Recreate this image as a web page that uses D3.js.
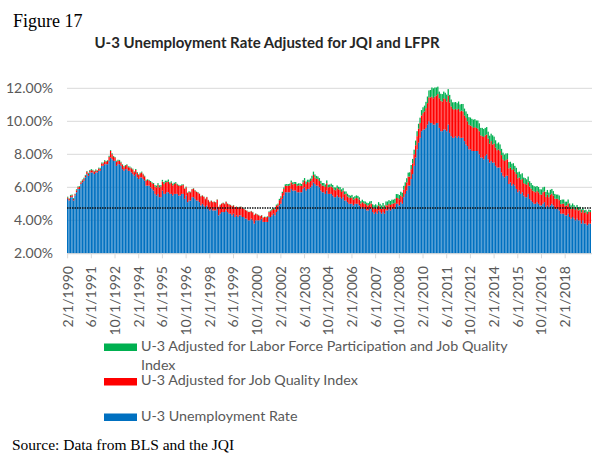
<!DOCTYPE html>
<html>
<head>
<meta charset="utf-8">
<script src="https://cdn.jsdelivr.net/npm/d3@7"></script>
<style>
  body { margin: 0; background: #fff; }
  svg { display: block; }
  .axisText { font-family: Lato, "Open Sans", sans-serif; font-size: 14px; fill: #595959; }
  .serif { font-family: "Liberation Serif", "Times New Roman", serif; fill: #000; }
</style>
</head>
<body>
<div class="chart"></div>
<script>
// monthly bars, first category 2/1/1990
var firstMonth = new Date(1990, 1, 1);

// U-3 unemployment rate (%), one row per year of bars
var u3Rate = [
  5.3, 5.2, 5.4, 5.4, 5.2, 5.5, 5.7, 5.9, 5.9, 6.2, 6.3,
  6.4, 6.6, 6.8, 6.7, 6.9, 6.9, 6.9, 6.8, 6.9, 6.9, 7.0, 7.0, 7.3,
  7.3, 7.4, 7.4, 7.4, 7.6, 7.8, 7.7, 7.6, 7.6, 7.3, 7.4, 7.4,
  7.3, 7.1, 7.0, 7.1, 7.1, 7.0, 7.0, 6.9, 6.8, 6.7, 6.8, 6.6, 6.5,
  6.6, 6.6, 6.5, 6.4, 6.1, 6.1, 6.1, 6.0, 5.9, 5.8, 5.6, 5.5,
  5.6, 5.4, 5.4, 5.8, 5.6, 5.6, 5.7, 5.7, 5.6, 5.6, 5.5, 5.6, 5.6,
  5.6, 5.5, 5.5, 5.6, 5.6, 5.3, 5.5, 5.1, 5.2, 5.2, 5.4, 5.4,
  5.3, 5.2, 5.2, 5.1, 4.9, 5.0, 4.9, 4.8, 4.9, 4.7, 4.6, 4.7,
  4.6, 4.6, 4.6, 4.7, 4.3, 4.4, 4.5, 4.5, 4.5, 4.6, 4.5, 4.4, 4.4,
  4.3, 4.4, 4.2, 4.3, 4.2, 4.3, 4.3, 4.2, 4.2, 4.1, 4.1, 4.0,
  4.0, 4.1, 4.0, 3.8, 4.0, 4.0, 4.0, 4.0, 4.1, 3.9, 3.9, 3.9, 3.9,
  4.2, 4.2, 4.3, 4.4, 4.3, 4.5, 4.6, 4.9, 5.0, 5.3, 5.5, 5.7,
  5.7, 5.7, 5.7, 5.9, 5.8, 5.8, 5.8, 5.7, 5.7, 5.7, 5.7, 5.9, 6.0,
  5.8, 5.9, 5.9, 6.0, 6.1, 6.3, 6.2, 6.1, 6.1, 6.0, 5.8, 5.7,
  5.7, 5.6, 5.8, 5.6, 5.6, 5.6, 5.5, 5.4, 5.4, 5.5, 5.4, 5.4,
  5.3, 5.4, 5.2, 5.2, 5.1, 5.0, 5.0, 5.0, 4.9, 5.0, 5.0, 5.0, 4.9,
  4.7, 4.8, 4.7, 4.7, 4.6, 4.6, 4.7, 4.7, 4.5, 4.4, 4.5, 4.4,
  4.6, 4.5, 4.4, 4.5, 4.4, 4.6, 4.6, 4.7, 4.6, 4.7, 4.7, 4.7, 5.0,
  5.0, 4.9, 5.1, 5.0, 5.4, 5.6, 5.8, 6.1, 6.1, 6.5, 6.8, 7.3,
  7.8, 8.3, 8.7, 9.0, 9.4, 9.5, 9.5, 9.6, 9.8, 10.0, 9.9, 9.9,
  9.8, 9.8, 9.9, 9.9, 9.6, 9.4, 9.4, 9.5, 9.5, 9.4, 9.8, 9.3,
  9.1, 9.0, 9.0, 9.1, 9.0, 9.1, 9.0, 9.0, 9.0, 8.8, 8.6, 8.5,
  8.3, 8.3, 8.2, 8.2, 8.2, 8.2, 8.2, 8.0, 7.8, 7.8, 7.7, 7.9,
  8.0, 7.7, 7.5, 7.6, 7.5, 7.5, 7.3, 7.2, 7.2, 7.2, 6.9, 6.7,
  6.6, 6.7, 6.7, 6.2, 6.3, 6.1, 6.2, 6.1, 5.9, 5.7, 5.8, 5.6,
  5.7, 5.5, 5.4, 5.4, 5.6, 5.3, 5.2, 5.1, 5.0, 5.0, 5.1, 5.0,
  4.9, 4.9, 5.0, 5.1, 4.8, 4.9, 4.8, 4.9, 5.0, 4.9, 4.7, 4.7,
  4.7, 4.6, 4.4, 4.4, 4.4, 4.3, 4.3, 4.4, 4.2, 4.1, 4.2, 4.1,
  4.0, 4.1, 4.0, 4.0, 3.8, 4.0, 3.8, 3.8, 3.7, 3.8, 3.8
];

// extra points from the Job Quality Index adjustment (red)
var jqiAdd = [
  .08, .10, .08, .12, .10, .08, .12, .10, .14, .10, .12,
  .12, .10, .15, .12, .10, .14, .12, .15, .12, .10, .14, .12, .15,
  .15, .18, .15, .20, .25, .40, .30, .25, .20, .25, .22, .20,
  .20, .25, .22, .20, .25, .22, .20, .25, .28, .22, .25, .28, .25,
  .25, .30, .28, .25, .30, .35, .30, .32, .35, .40, .45, .50,
  .55, .60, .65, .55, .60, .70, .62, .65, .60, .68, .62, .60, .65,
  .55, .60, .58, .52, .55, .60, .50, .55, .52, .50, .48, .52,
  .50, .52, .48, .50, .55, .50, .52, .48, .50, .52, .50, .48,
  .50, .52, .48, .55, .50, .52, .50, .55, .48, .52, .50, .55, .52,
  .55, .50, .58, .52, .55, .50, .52, .55, .50, .52, .48, .50,
  .50, .45, .48, .52, .40, .35, .30, .25, .20, .25, .30, .28, .30,
  .30, .35, .32, .30, .35, .38, .35, .32, .38, .35, .40, .38,
  .40, .38, .42, .40, .38, .42, .40, .38, .42, .40, .38, .40, .42,
  .40, .42, .40, .38, .42, .45, .40, .42, .40, .38, .42, .40,
  .40, .42, .45, .40, .42, .45, .48, .45, .42, .45, .48, .45,
  .42, .40, .38, .40, .35, .38, .35, .38, .35, .32, .35, .33, .35,
  .32, .30, .33, .30, .32, .30, .28, .32, .30, .33, .30, .32,
  .30, .32, .30, .33, .30, .32, .30, .30, .33, .30, .32, .35, .35,
  .35, .38, .40, .42, .45, .48, .50, .55, .55, .60, .65, .70,
  .75, .80, .85, .90, .95, 1.00, 1.10, 1.20, 1.30, 1.45, 1.55, 1.60,
  1.60, 1.70, 1.65, 1.75, 1.80, 1.85, 1.80, 1.90, 1.85, 1.80, 1.75, 1.85,
  1.80, 1.75, 1.70, 1.65, 1.70, 1.65, 1.60, 1.65, 1.60, 1.55, 1.60, 1.50,
  1.50, 1.45, 1.50, 1.40, 1.45, 1.40, 1.35, 1.40, 1.35, 1.30, 1.35, 1.25,
  1.20, 1.25, 1.15, 1.20, 1.10, 1.15, 1.10, 1.05, 1.10, 1.00, 1.05, 1.00,
  1.00, .95, 1.00, .95, .90, .95, .90, .85, .90, .85, .80, .85,
  .80, .75, .80, .75, .70, .75, .72, .70, .75, .70, .68, .70,
  .68, .65, .70, .65, .62, .65, .60, .65, .62, .60, .62, .60,
  .60, .62, .58, .60, .62, .58, .60, .62, .60, .58, .62, .60,
  .62, .65, .60, .65, .68, .62, .65, .70, .68, .72, .70
];

// extra points from the labor force participation adjustment (green)
var lfprAdd = [
  .05, .03, .06, .04, .05, .03, .06, .05, .04, .06, .05,
  .06, .05, .04, .06, .05, .06, .04, .05, .06, .04, .05, .06, .05,
  .05, .06, .05, .04, .06, .05, .06, .05, .04, .06, .05, .06,
  .05, .04, .06, .05, .04, .05, .06, .04, .05, .04, .06, .05, .04,
  .04, .05, .04, .05, .06, .04, .05, .06, .05, .06, .08, .10,
  .10, .12, .08, .10, .12, .10, .08, .12, .10, .08, .10, .08, .06,
  .06, .05, .04, .05, .04, .03, .04, .03, .04, .03, .02, .03,
  .03, .02, .03, .02, .03, .02, .02, .03, .02, .02, .03, .02,
  .02, .02, .03, .02, .02, .03, .02, .02, .03, .02, .02, .03, .02,
  .02, .03, .02, .02, .03, .02, .02, .02, .03, .02, .02, .02,
  .02, .02, .03, .02, .02, .02, .03, .02, .02, .03, .02, .03, .04,
  .04, .05, .06, .05, .06, .07, .06, .08, .07, .08, .09, .10,
  .10, .12, .10, .11, .12, .10, .12, .13, .12, .14, .12, .13, .14,
  .15, .14, .16, .15, .18, .20, .18, .17, .16, .18, .17, .16,
  .16, .15, .17, .16, .15, .17, .16, .15, .17, .16, .15, .16,
  .16, .15, .17, .15, .16, .15, .14, .16, .15, .14, .16, .15, .14,
  .14, .15, .13, .14, .15, .14, .16, .15, .17, .18, .17, .18,
  .20, .18, .20, .22, .20, .22, .24, .22, .24, .25, .23, .25, .24,
  .24, .25, .23, .25, .24, .22, .25, .24, .26, .25, .27, .28,
  .28, .30, .30, .32, .33, .35, .35, .38, .40, .42, .45, .55,
  .60, .55, .50, .45, .40, .42, .45, .40, .38, .42, .40, .45,
  .42, .40, .45, .42, .40, .45, .42, .40, .45, .42, .40, .45,
  .45, .48, .45, .50, .48, .45, .50, .48, .45, .50, .48, .45,
  .45, .42, .48, .45, .55, .42, .45, .40, .42, .40, .38, .40,
  .38, .40, .36, .38, .35, .38, .36, .35, .38, .36, .35, .34,
  .35, .34, .36, .33, .35, .32, .34, .33, .32, .34, .30, .32,
  .30, .32, .30, .28, .30, .29, .28, .30, .28, .27, .28, .26,
  .26, .28, .25, .26, .24, .25, .23, .24, .22, .23, .20, .22,
  .20, .18, .20, .17, .18, .15, .16, .14, .15, .13, .12
];

var tickLabels = ["2/1/1990", "6/1/1991", "10/1/1992", "2/1/1994", "6/1/1995", "10/1/1996",
  "2/1/1998", "6/1/1999", "10/1/2000", "2/1/2002", "6/1/2003", "10/1/2004", "2/1/2006",
  "6/1/2007", "10/1/2008", "2/1/2010", "6/1/2011", "10/1/2012", "2/1/2014", "6/1/2015",
  "10/1/2016", "2/1/2018"];
var tickEvery = 16;
var yTicks = [2, 4, 6, 8, 10, 12];
var refRate = 4.75;

var legendItems = [
  { lines: ["U-3 Adjusted for Labor Force Participation and Job Quality", "Index"], color: "#00B050" },
  { lines: ["U-3 Adjusted for Job Quality Index"], color: "#FF0000" },
  { lines: ["U-3 Unemployment Rate"], color: "#0070C0" }
];

var svgWidth = 592;
var svgHeight = 455;
var plot = { left: 67, right: 591, top: 88.3, bottom: 253.3 };

var svg = d3.select(".chart")
  .append("svg")
  .attr("width", svgWidth)
  .attr("height", svgHeight);

var months = d3.range(u3Rate.length).map(i => d3.timeMonth.offset(firstMonth, i));
var rows = months.map(function(m, i) {
  return { i: i, month: m, u3: u3Rate[i], jqi: jqiAdd[i], lfpr: lfprAdd[i] };
});

var xScale = d3.scaleBand()
  .domain(d3.range(rows.length))
  .range([plot.left, plot.right])
  .paddingInner(0.12);

var yScale = d3.scaleLinear()
  .domain([2, 12])
  .range([plot.bottom, plot.top]);

// gridlines
svg.append("g")
  .selectAll("line")
  .data(yTicks)
  .enter()
  .append("line")
  .attr("x1", plot.left)
  .attr("x2", svgWidth)
  .attr("y1", d => yScale(d))
  .attr("y2", d => yScale(d))
  .attr("stroke", "#d9d9d9")
  .attr("stroke-width", 1);

// y labels
svg.append("g")
  .selectAll("text")
  .data(yTicks)
  .enter()
  .append("text")
  .attr("class", "axisText")
  .attr("x", 53)
  .attr("y", d => yScale(d) + 5)
  .attr("text-anchor", "end")
  .text(d => d3.format(".2f")(d) + "%");

// stacked bars
var series = d3.stack().keys(["u3", "jqi", "lfpr"])(rows);
var colors = { u3: "#0070C0", jqi: "#FF0000", lfpr: "#00B050" };

svg.append("g")
  .selectAll("g")
  .data(series)
  .enter()
  .append("g")
  .attr("fill", d => colors[d.key])
  .selectAll("rect")
  .data(d => d)
  .enter()
  .append("rect")
  .attr("x", d => xScale(d.data.i))
  .attr("width", xScale.bandwidth())
  .attr("y", d => yScale(d[1]))
  .attr("height", d => Math.max(0, yScale(Math.max(d[0], 2)) - yScale(d[1])));

// dotted reference line
svg.append("line")
  .attr("x1", plot.left)
  .attr("x2", svgWidth)
  .attr("y1", yScale(refRate))
  .attr("y2", yScale(refRate))
  .attr("stroke", "#111")
  .attr("stroke-width", 1.4)
  .attr("stroke-dasharray", "1.5,1");

// x axis line + ticks
svg.append("line")
  .attr("x1", plot.left)
  .attr("x2", svgWidth)
  .attr("y1", plot.bottom + 0.5)
  .attr("y2", plot.bottom + 0.5)
  .attr("stroke", "#d9d9d9");

var tickPos = tickLabels.map((t, k) => ({ label: t, x: xScale(k * tickEvery) + xScale.bandwidth() / 2 }));

svg.append("g")
  .selectAll("line")
  .data(tickPos)
  .enter()
  .append("line")
  .attr("x1", d => d.x)
  .attr("x2", d => d.x)
  .attr("y1", plot.bottom)
  .attr("y2", plot.bottom + 5)
  .attr("stroke", "#d9d9d9");

svg.append("g")
  .selectAll("text")
  .data(tickPos)
  .enter()
  .append("text")
  .attr("class", "axisText")
  .attr("text-anchor", "end")
  .attr("transform", d => `translate(${d.x + 5}, 266) rotate(-90)`)
  .text(d => d.label);

// titles
svg.append("text")
  .attr("class", "serif")
  .attr("x", 13)
  .attr("y", 27)
  .style("font-size", "18px")
  .text("Figure 17");

svg.append("text")
  .attr("x", 267)
  .attr("y", 48)
  .attr("text-anchor", "middle")
  .style("font-family", "Lato, 'Open Sans', sans-serif")
  .style("font-weight", "bold")
  .style("font-size", "15px")
  .style("fill", "#262626")
  .text("U-3 Unemployment Rate Adjusted for JQI and LFPR");

// legend
var legendY = [350.5, 385, 420.5];
var legend = svg.append("g")
  .selectAll("g")
  .data(legendItems)
  .enter()
  .append("g")
  .attr("transform", (d, k) => `translate(0, ${legendY[k]})`);

legend.append("rect")
  .attr("x", 104)
  .attr("y", -7)
  .attr("width", 33)
  .attr("height", 7.5)
  .attr("fill", d => d.color);

legend.append("text")
  .attr("class", "axisText")
  .style("font-size", "14.3px")
  .attr("x", 141)
  .attr("y", 0)
  .selectAll("tspan")
  .data(d => d.lines)
  .enter()
  .append("tspan")
  .attr("x", 141)
  .attr("dy", (d, k) => k === 0 ? 0 : 19)
  .text(d => d);

svg.append("text")
  .attr("class", "serif")
  .attr("x", 12)
  .attr("y", 450)
  .style("font-size", "15.5px")
  .text("Source: Data from BLS and the JQI");
</script>
</body>
</html>
